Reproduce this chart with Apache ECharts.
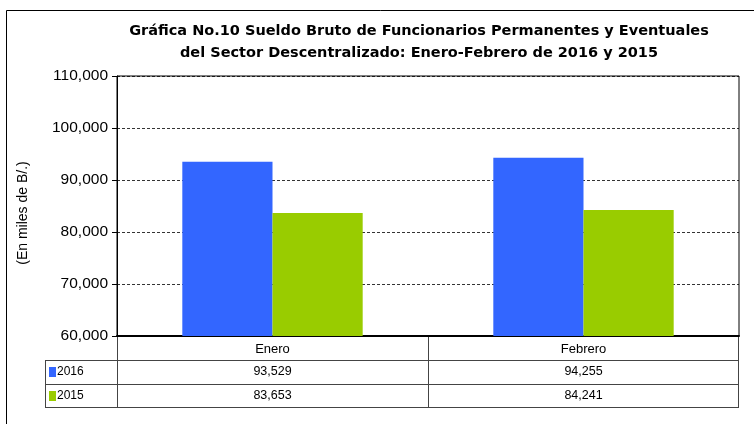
<!DOCTYPE html>
<html><head><meta charset="utf-8">
<script src="https://cdn.jsdelivr.net/npm/echarts@6/dist/echarts.min.js"></script>
<style>html,body{margin:0;padding:0;background:#fff}#c{width:754px;height:424px}</style>
</head><body><div id="c"></div>
<script>
const categories = ['Enero', 'Febrero'];
const seriesNames = ['2016', '2015'];
const values2016 = [93529, 94255];
const values2015 = [83653, 84241];
const colors = ['#3366FF', '#99CC00'];
const titleLines = ['Gráfica No.10 Sueldo Bruto de Funcionarios Permanentes y Eventuales', 'del Sector Descentralizado: Enero-Febrero de 2016 y 2015'];
const yName = '(En miles de B/.)';

const chart = echarts.init(document.getElementById('c'), null, {renderer: 'canvas'});
const FONT = 'Liberation Sans, Arial, sans-serif';
const fmt = v => v.toLocaleString('en-US');
const G = {left: 117, top: 76, right: 15, height: 260};

chart.setOption({
  animation: false,
  backgroundColor: '#fff',
  title: {
    text: titleLines.join('\n'), left: 414, top: 15, textAlign: 'center',
    textStyle: {fontFamily: 'DejaVu Sans, sans-serif', fontSize: 14.5, fontWeight: 'bold', color: '#000', lineHeight: 22}
  },
  grid: {left: G.left, top: G.top, right: G.right, height: G.height, show: true, borderColor: '#000', borderWidth: 1},
  xAxis: {
    type: 'category', data: categories,
    axisLine: {show: true, lineStyle: {color: '#000', width: 2}},
    axisTick: {show: false}, axisLabel: {show: false}
  },
  yAxis: {
    type: 'value', min: 60000, max: 110000, interval: 10000,
    name: yName, nameLocation: 'middle', nameGap: 87, nameRotate: 90,
    nameTextStyle: {fontFamily: FONT, fontSize: 14, color: '#000', padding: [0, 0, 0, -14]},
    axisLine: {show: true, lineStyle: {color: '#000', width: 1}},
    axisTick: {show: true, length: 5, lineStyle: {color: '#000'}},
    axisLabel: {fontFamily: FONT, fontSize: 15.5, color: '#000', formatter: v => fmt(v), margin: 9},
    splitLine: {show: true, lineStyle: {color: '#000', type: [3, 2], width: 0.8}}
  },
  series: [
    {name: seriesNames[0], type: 'bar', data: values2016, itemStyle: {color: colors[0]}, barGap: '0%', barCategoryGap: '42%'},
    {name: seriesNames[1], type: 'bar', data: values2015, itemStyle: {color: colors[1]}, barGap: '0%', barCategoryGap: '42%'}
  ]
});

// Data table below the chart, built from the arrays
const plotLeft = G.left, plotRight = 754 - G.right, bottom = G.top + G.height;
const rowH = 24;
const legendLeft = 45;
const catW = (plotRight - plotLeft) / categories.length;
const els = [];
const lineStyle = {stroke: '#444', lineWidth: 1};
function hline(x1, x2, y) { els.push({type: 'line', shape: {x1, y1: y, x2, y2: y}, style: lineStyle, silent: true}); }
function vline(x, y1, y2) { els.push({type: 'line', shape: {x1: x, y1, x2: x, y2}, style: lineStyle, silent: true}); }
const tableBottom = bottom + rowH * 3 - 1;
vline(plotLeft + 0.5, bottom, tableBottom);
for (let i = 1; i < categories.length; i++) vline(Math.round(plotLeft + catW * i) + 0.5, bottom, tableBottom);
vline(plotRight - 0.5, bottom, tableBottom);
vline(legendLeft + 0.5, bottom + rowH, tableBottom);
hline(legendLeft, plotRight, bottom + rowH + 0.5);
hline(legendLeft, plotRight, bottom + rowH * 2 + 0.5);
hline(legendLeft, plotRight, tableBottom + 0.5);
categories.forEach((c, i) => {
  const cx = chart.convertToPixel({xAxisIndex: 0}, c);
  els.push({type: 'text', x: cx, y: bottom + rowH / 2 + 1, style: {text: c, font: '13px ' + FONT, fill: '#000', align: 'center', verticalAlign: 'middle'}, silent: true});
});
[values2016, values2015].forEach((vals, r) => {
  const yc = bottom + rowH * (r + 1) + rowH / 2;
  els.push({type: 'rect', shape: {x: legendLeft + 4, y: yc - 5, width: 7, height: 10}, style: {fill: colors[r]}, silent: true});
  els.push({type: 'text', x: legendLeft + 12, y: yc, style: {text: seriesNames[r], font: '12px ' + FONT, fill: '#000', align: 'left', verticalAlign: 'middle'}, silent: true});
  vals.forEach((v, i) => {
    const cx = chart.convertToPixel({xAxisIndex: 0}, categories[i]);
    els.push({type: 'text', x: cx, y: yc, style: {text: fmt(v), font: '12.5px ' + FONT, fill: '#000', align: 'center', verticalAlign: 'middle'}, silent: true});
  });
});
els.push({type: 'rect', shape: {x: 6.5, y: 10.5, width: 760, height: 430}, style: {fill: null, stroke: '#000', lineWidth: 1}, silent: true, z: -1});
chart.setOption({graphic: {elements: els}});
</script>
</body></html>
